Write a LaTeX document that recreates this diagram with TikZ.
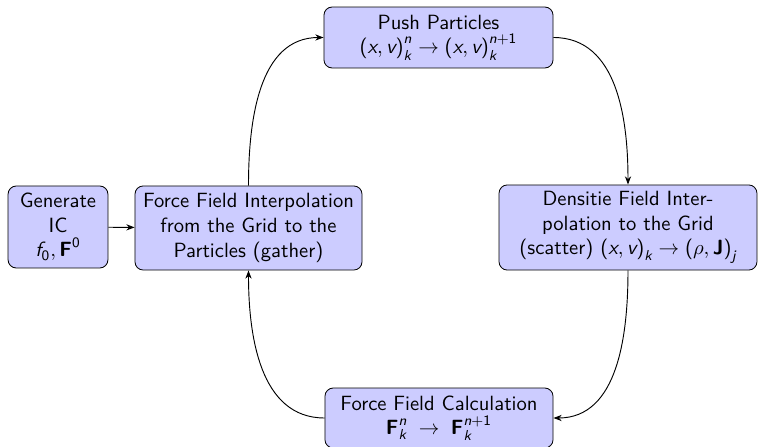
\documentclass[tikz,border=0pt]{standalone}
\usepackage{amsmath}
\usetikzlibrary{arrows.meta}
\newcommand\mi[1]{\text{\sffamily\itshape #1}}
\newcommand\mup[1]{\text{\sffamily\upshape #1}}
\newcommand\mbf[1]{\text{\sffamily\bfseries #1}}
\tikzset{
  blk/.style={draw, fill=blue!20, rounded corners=4pt, align=center, inner sep=2pt,
    font=\sffamily},
  conn/.style={-{Stealth[length=4pt,width=3pt]}, line width=0.45pt}
}
\begin{document}
\begin{tikzpicture}[x=0.4854pt, y=-0.4854pt]
\useasboundingbox (0,0) rectangle (758,447);
\node[blk, minimum width=48.5pt, minimum height=39.8pt] (gen) at (58,227)
  {Generate\\IC\\$\mi{f}_{\mup{0}}, \mbf{F}^{\mup{0}}$};
\node[blk, minimum width=110.2pt, minimum height=40.8pt] (ffi) at (248.5,228)
  {Force Field Interpolation\\from the Grid to the\\Particles (gather)};
\node[blk, minimum width=111.2pt, minimum height=29.6pt] (push) at (438.5,37.5)
  {Push Particles\\$\mup{(}\mi{x}, \mi{v}\mup{)}_{\mi{k}}^{\mi{n}} \rightarrow \mup{(}\mi{x}, \mi{v}\mup{)}_{\mi{k}}^{\mi{n}\mup{+1}}$};
\node[blk, minimum width=125.2pt, minimum height=41.3pt] (dens) at (628,227.5)
  {Densitie Field Inter-\\polation to the Grid\\(scatter) $\mup{(}\mi{x}, \mi{v}\mup{)}_{\mi{k}} \rightarrow \mup{(}\rho, \mbf{J}\mup{)}_{\mi{j}}$};
\node[blk, minimum width=110.7pt, minimum height=29.1pt] (calc) at (439,418)
  {Force Field Calculation\\$\mbf{F}_{\mi{k}}^{\mi{n}} \;\rightarrow\; \mbf{F}_{\mi{k}}^{\mi{n}\mup{+1}}$};
\draw[conn] (gen) -- (ffi);
\draw[conn] (ffi.north) to[out=90, in=180] (push.west);
\draw[conn] (push.east) to[out=0, in=90] (dens.north);
\draw[conn] (dens.south) to[out=270, in=0] (calc.east);
\draw[conn] (calc.west) to[out=180, in=270] (ffi.south);
\end{tikzpicture}
\end{document}
